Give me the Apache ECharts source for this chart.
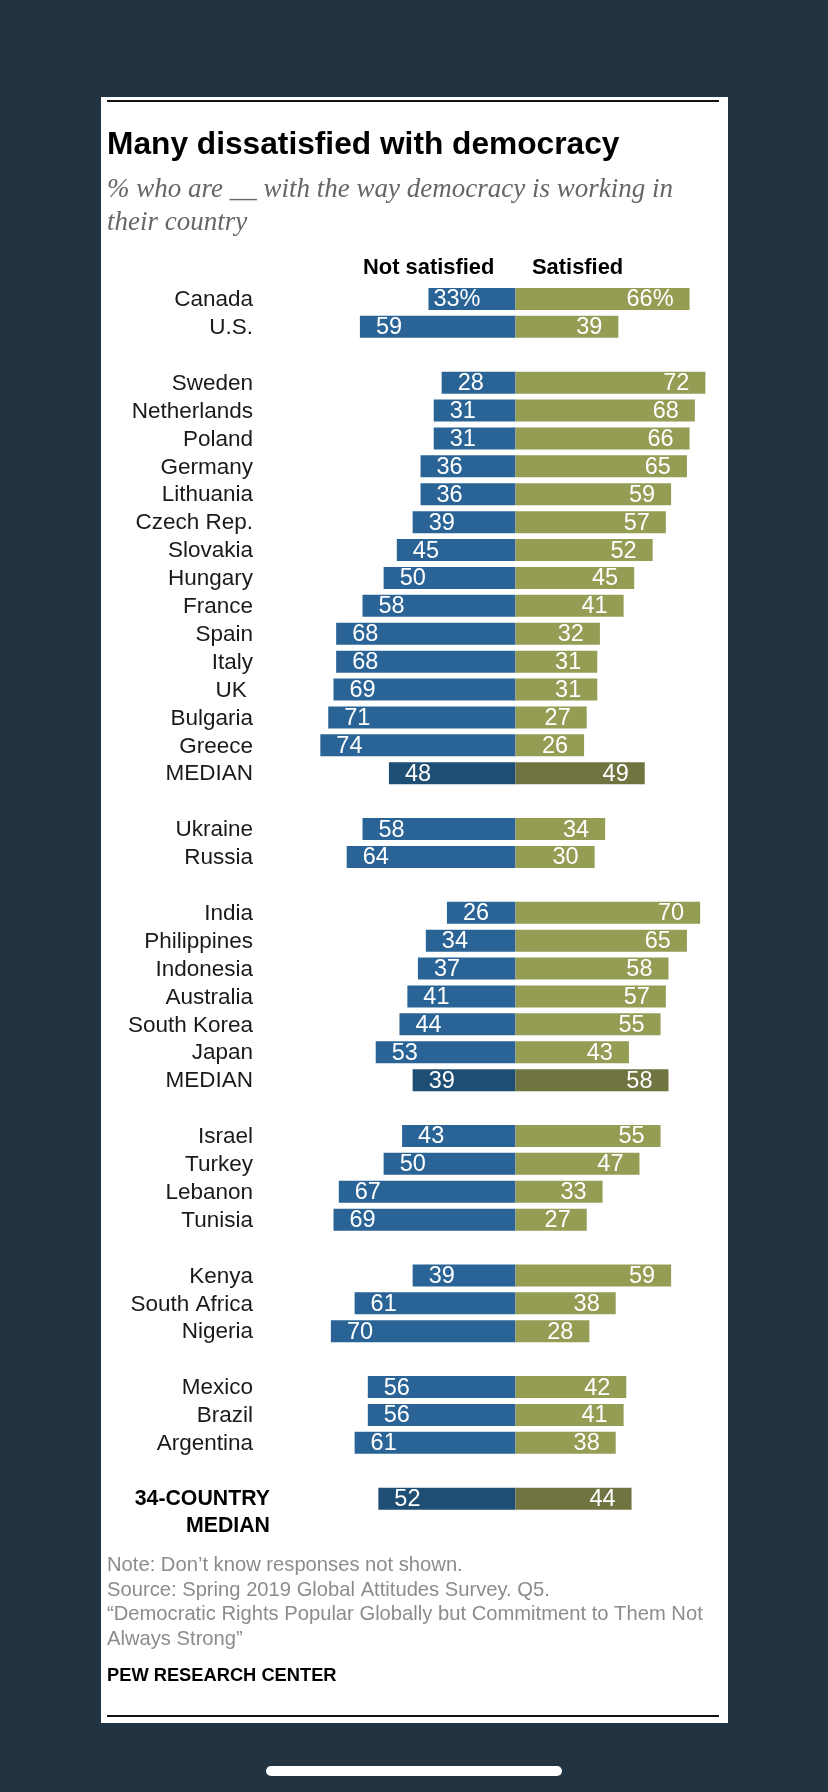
<!DOCTYPE html>
<html>
<head>
<meta charset="utf-8">
<script src="https://cdn.jsdelivr.net/npm/echarts@6/dist/echarts.min.js"></script>
<style>
  html, body { margin: 0; padding: 0; background: #223341; }
  #chart { width: 828px; height: 1792px; }
</style>
</head>
<body>
<div id="chart"></div>
<script>
// "" rows are the gaps between the regional groups
const countries = ["Canada", "U.S.", "",
  "Sweden", "Netherlands", "Poland", "Germany", "Lithuania", "Czech Rep.", "Slovakia", "Hungary", "France", "Spain", "Italy", "UK\u00a0", "Bulgaria", "Greece", "MEDIAN", "",
  "Ukraine", "Russia", "",
  "India", "Philippines", "Indonesia", "Australia", "South Korea", "Japan", "MEDIAN", "",
  "Israel", "Turkey", "Lebanon", "Tunisia", "",
  "Kenya", "South Africa", "Nigeria", "",
  "Mexico", "Brazil", "Argentina", "",
  "34-COUNTRY", "MEDIAN"];
const notSatisfied = [33, 59, null,
  28, 31, 31, 36, 36, 39, 45, 50, 58, 68, 68, 69, 71, 74, 48, null,
  58, 64, null,
  26, 34, 37, 41, 44, 53, 39, null,
  43, 50, 67, 69, null,
  39, 61, 70, null,
  56, 56, 61, null,
  52, null];
const satisfied = [66, 39, null,
  72, 68, 66, 65, 59, 57, 52, 45, 41, 32, 31, 31, 27, 26, 49, null,
  34, 30, null,
  70, 65, 58, 57, 55, 43, 58, null,
  55, 47, 33, 27, null,
  59, 38, 28, null,
  42, 41, 38, null,
  44, null];
const medianRows = [17, 28, 43];
const boldRows = [43, 44];

const BLUE = "#2a6496", BLUE_DARK = "#1f4e75", OLIVE = "#959c54", OLIVE_DARK = "#6f7440";
const sansFont = "Liberation Sans";

const chart = echarts.init(document.getElementById("chart"));

const leftData = notSatisfied.map((v, i) => ({
  value: v === null ? null : -v,
  itemStyle: { color: medianRows.includes(i) ? BLUE_DARK : BLUE },
  // the 33% label is wider, so it starts closer to the bar end
  label: { distance: i === 0 ? 5 : 16 },
}));
const rightData = satisfied.map((v, i) => ({
  value: v,
  itemStyle: { color: medianRows.includes(i) ? OLIVE_DARK : OLIVE },
}));

const valueLabel = {
  show: true,
  color: "#fff",
  fontFamily: sansFont,
  fontSize: 23.5,
  offset: [0, 1],
};

chart.setOption({
  backgroundColor: "#223341",
  animation: false,
  title: [
    { text: "Many dissatisfied with democracy", left: 107, top: 129, padding: 0,
      textStyle: { fontFamily: sansFont, fontWeight: "bold", fontSize: 31.7, color: "#000" } },
    { text: "% who are __ with the way democracy is working in\ntheir country", left: 107, top: 173, padding: 0,
      textStyle: { fontFamily: "Liberation Serif", fontStyle: "italic", fontWeight: "normal", fontSize: 27, lineHeight: 33, color: "#666" } },
    { text: "Not satisfied", left: 363, top: 257, padding: 0,
      textStyle: { fontFamily: sansFont, fontWeight: "bold", fontSize: 21.9, color: "#000" } },
    { text: "Satisfied", left: 532, top: 257, padding: 0,
      textStyle: { fontFamily: sansFont, fontWeight: "bold", fontSize: 21.9, color: "#000" } },
    { text: "Note: Don\u2019t know responses not shown.\nSource: Spring 2019 Global Attitudes Survey. Q5.\n\u201cDemocratic Rights Popular Globally but Commitment to Them Not\nAlways Strong\u201d",
      left: 107, top: 1553, padding: 0,
      textStyle: { fontFamily: sansFont, fontWeight: "normal", fontSize: 20.2, lineHeight: 24.7, color: "#8c8c8c" } },
    { text: "PEW RESEARCH CENTER", left: 107, top: 1667, padding: 0,
      textStyle: { fontFamily: sansFont, fontWeight: "bold", fontSize: 18.3, color: "#000" } },
  ],
  graphic: [
    { type: "rect", z: -10, shape: { x: 101, y: 97, width: 627, height: 1626 }, style: { fill: "#fff" } },
    { type: "rect", shape: { x: 107, y: 100, width: 612, height: 2 }, style: { fill: "#111" } },
    { type: "rect", shape: { x: 107, y: 1715, width: 612, height: 2 }, style: { fill: "#111" } },
    { type: "rect", shape: { x: 266, y: 1766, width: 296, height: 10, r: 5 }, style: { fill: "#fff" } },
  ],
  grid: { left: 304.5, top: 285, width: 422, height: 1255.5 },
  xAxis: { type: "value", min: -80, max: 80, show: false },
  yAxis: {
    type: "category",
    inverse: true,
    data: countries,
    axisLine: { show: false },
    axisTick: { show: false },
    axisLabel: {
      interval: 0,
      margin: 34.5,
      formatter: (name, i) => (name === "" ? "" : boldRows.includes(i) ? `{b|${name}}` : `{n|${name}}`),
      rich: {
        n: { fontFamily: sansFont, fontSize: 22.5, color: "#1a1a1a", padding: [2, 17, 0, 0] },
        b: { fontFamily: sansFont, fontSize: 21.3, fontWeight: "bold", color: "#000" },
      },
    },
  },
  series: [
    {
      name: "Not satisfied", type: "bar", stack: "a", barWidth: 22, data: leftData,
      label: { ...valueLabel, position: "insideLeft",
        formatter: (p) => (p.value === null ? "" : Math.abs(p.value) + (p.dataIndex === 0 ? "%" : "")) },
    },
    {
      name: "Satisfied", type: "bar", stack: "a", barWidth: 22, data: rightData,
      label: { ...valueLabel, position: "insideRight", distance: 16,
        formatter: (p) => (p.value === null ? "" : p.value + (p.dataIndex === 0 ? "%" : "")) },
    },
  ],
});
</script>
</body>
</html>
